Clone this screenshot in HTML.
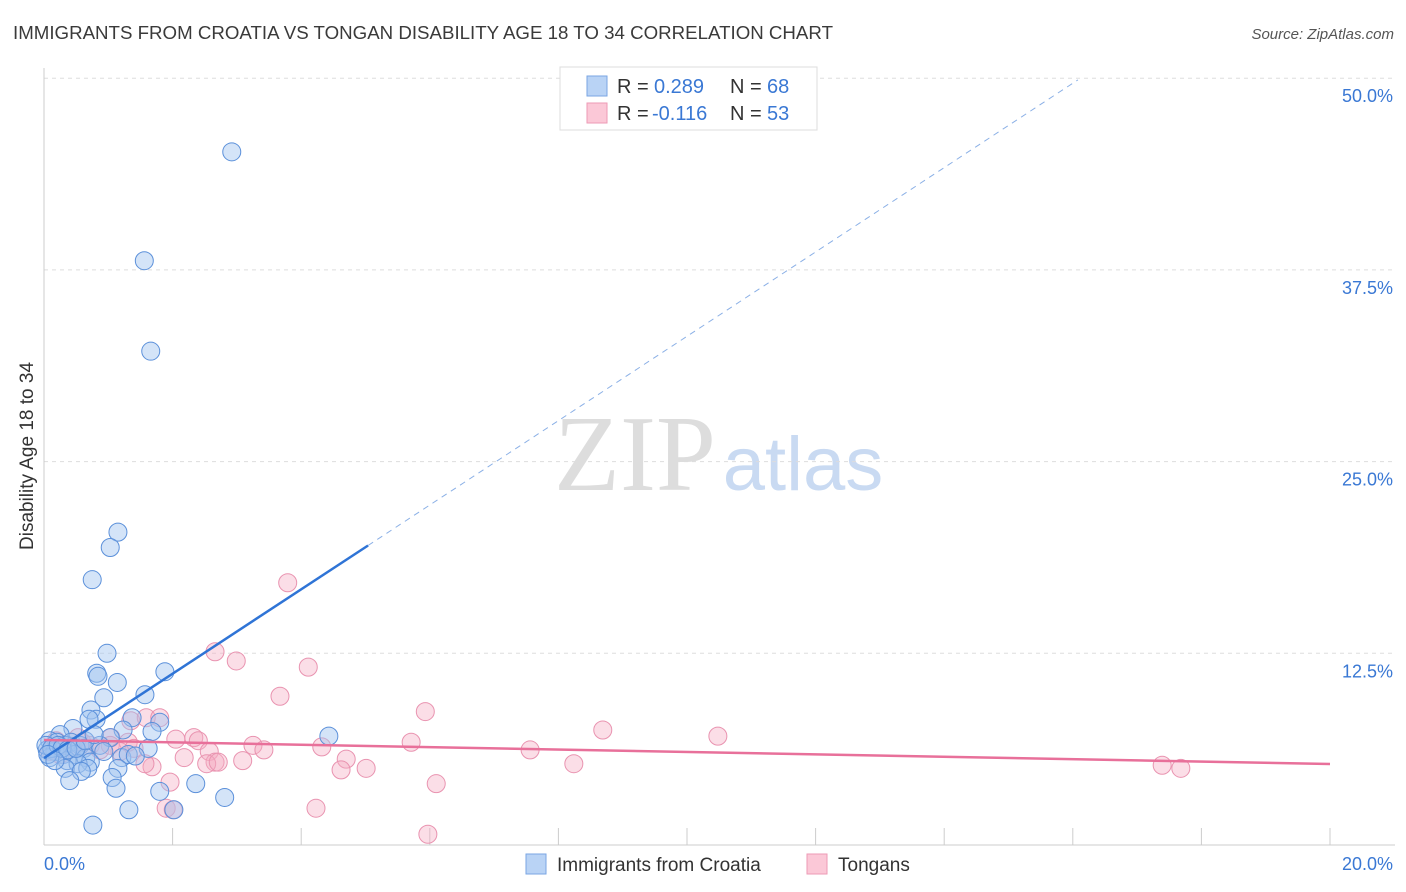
<!DOCTYPE html>
<html><head><meta charset="utf-8"><style>
body{margin:0;background:#fff;font-family:"Liberation Sans",sans-serif}
svg{display:block}
</style></head><body>
<svg width="1406" height="892" viewBox="0 0 1406 892" xmlns="http://www.w3.org/2000/svg">
<text x="13" y="39" font-size="18" fill="#3a3a3a" textLength="820" lengthAdjust="spacingAndGlyphs">IMMIGRANTS FROM CROATIA VS TONGAN DISABILITY AGE 18 TO 34 CORRELATION CHART</text>
<text x="1394" y="39" font-size="15" font-style="italic" fill="#555" text-anchor="end">Source: ZipAtlas.com</text>
<g>
<text x="635" y="490" font-size="108" font-family="Liberation Serif,serif" fill="#ddd" text-anchor="middle">ZIP</text>
<text x="803" y="490" font-size="76" fill="#c9daf2" text-anchor="middle">atlas</text>
</g>
<g id="grid"></g>
<g id="axes"></g>
<g id="marks"></g>
<g>
<rect x="560" y="67" width="257" height="63" fill="#fff" stroke="#ddd"/>
<rect x="587" y="76" width="20" height="20" fill="#b9d3f5" stroke="#7aa6e3"/>
<rect x="587" y="103" width="20" height="20" fill="#fbc8d7" stroke="#ee9ab5"/>
<text x="617" y="93" font-size="20" fill="#333">R = <tspan x="654" fill="#3a78d4">0.289</tspan><tspan x="730">N = </tspan><tspan x="767" fill="#3a78d4">68</tspan></text>
<text x="617" y="120" font-size="20" fill="#333">R = <tspan x="652" fill="#3a78d4">-0.116</tspan><tspan x="730">N = </tspan><tspan x="767" fill="#3a78d4">53</tspan></text>
</g>
<g>
<rect x="526" y="854" width="20" height="20" fill="#b9d3f5" stroke="#7aa6e3"/>
<text x="557" y="871" font-size="19" fill="#333">Immigrants from Croatia</text>
<rect x="807" y="854" width="20" height="20" fill="#fbc8d7" stroke="#ee9ab5"/>
<text x="838" y="871" font-size="19" fill="#333">Tongans</text>
</g>
</svg>
<script>
const xTicks=[0,2,4,6,8,10,12,14,16,18,20];
const yTicks=[12.5,25,37.5,50];
const yTickLabels=["12.5%","25.0%","37.5%","50.0%"];
const blueX=[2.92,1.56,1.66,1.15,1.03,0.75,0.98,0.82,0.84,1.88,1.14,0.93,1.57,0.73,0.81,1.37,1.80,0.70,0.45,1.23,1.68,1.03,0.25,0.09,0.20,0.33,0.42,0.56,0.62,1.62,4.43,0.05,0.17,0.30,0.48,0.65,0.72,1.21,1.31,1.42,0.36,0.53,0.09,1.15,0.33,0.68,0.58,1.06,0.40,1.12,1.80,2.36,1.32,2.02,2.81,0.76,0.03,0.12,0.22,0.87,0.93,0.28,0.37,0.50,0.06,0.17,0.64,0.78];
const blueY=[45.2,38.1,32.2,20.4,19.4,17.3,12.5,11.2,11.0,11.3,10.6,9.6,9.8,8.8,8.2,8.3,8.0,8.2,7.6,7.5,7.4,7.0,7.2,6.8,6.7,6.5,6.7,6.5,6.3,6.3,7.1,6.2,6.1,5.9,5.9,5.7,5.4,5.7,5.9,5.8,5.5,5.3,5.7,5.0,5.0,5.0,4.8,4.4,4.2,3.7,3.5,4.0,2.3,2.3,3.1,1.3,6.5,6.3,6.5,6.5,6.1,6.3,6.2,6.3,5.9,5.5,6.8,7.2];
const pinkX=[3.79,2.66,2.99,4.11,3.67,5.93,8.69,10.48,1.35,1.59,1.80,1.04,1.31,1.40,2.05,2.33,2.40,2.57,3.25,3.42,4.32,5.71,7.56,4.70,2.66,2.53,2.71,3.09,4.62,5.01,8.24,17.39,17.68,1.68,1.57,2.18,1.96,1.90,2.01,4.23,6.10,5.97,0.19,0.31,0.44,0.59,0.72,0.87,0.09,0.25,1.03,1.18,0.53];
const pinkY=[17.1,12.6,12.0,11.6,9.7,8.7,7.5,7.1,8.1,8.3,8.3,7.0,6.7,6.3,6.9,7.0,6.8,6.1,6.5,6.2,6.4,6.7,6.2,5.6,5.4,5.3,5.4,5.5,4.9,5.0,5.3,5.2,5.0,5.1,5.3,5.7,4.1,2.4,2.3,2.4,4.0,0.7,6.8,6.5,6.3,6.7,6.5,6.2,6.1,5.9,6.5,6.1,7.0];
const blueTrendStart=5.67, blueTrendSlope=2.75, blueSolidEnd=5.04, blueDashEnd=16.08;
const pinkTrendStart=6.85, pinkTrendEnd=5.28;
const NS="http://www.w3.org/2000/svg";
const sx=v=>44+v*64.3, sy=v=>845-v*15.336;
function mk(t,a,p){const e=document.createElementNS(NS,t);for(const k in a)e.setAttribute(k,a[k]);p.appendChild(e);return e;}
const grid=document.getElementById('grid'),axes=document.getElementById('axes'),marks=document.getElementById('marks');
yTicks.forEach((v,i)=>{
 const l=mk('line',{x1:44,x2:1395,y1:sy(v),y2:sy(v),stroke:'#ddd','stroke-dasharray':'4 4'},grid);
 
 
 const t=mk('text',{x:1393,y:sy(v)+24,'font-size':18,fill:'#3a78d4','text-anchor':'end'},axes);
 t.textContent=yTickLabels[i];
 
 
});
const ax=mk('line',{x1:44,x2:1395,y1:845,y2:845,stroke:'#ccc'},axes);


const ay=mk('line',{x1:44,x2:44,y1:68,y2:845,stroke:'#ccc'},axes);


xTicks.slice(1).forEach(v=>{
 const l=mk('line',{x1:sx(v),x2:sx(v),y1:845,y2:828,stroke:'#ccc'},axes);
 
 
});
const x0=mk('text',{x:44,y:870,'font-size':18,fill:'#3a78d4'},axes);x0.textContent='0.0%';


const x1=mk('text',{x:1393,y:870,'font-size':18,fill:'#3a78d4','text-anchor':'end'},axes);x1.textContent='20.0%';


const yt=mk('text',{x:0,y:0,'font-size':19,fill:'#333','text-anchor':'middle',transform:'translate(33,456) rotate(-90)'},axes);yt.textContent='Disability Age 18 to 34';


function pts(X,Y,fill,stroke,name){X.forEach((x,i)=>{const c=mk('circle',{cx:sx(x),cy:sy(Y[i]),r:9,fill:fill,stroke:stroke,'stroke-width':1},marks);
 
 });}
pts(pinkX,pinkY,'rgba(246,172,196,0.4)','#e993b0','tongan-point');
pts(blueX,blueY,'rgba(160,196,240,0.45)','#5b90da','croatia-point');
const bt=v=>blueTrendStart+blueTrendSlope*v;
const l1=mk('line',{x1:sx(0),y1:sy(bt(0)),x2:sx(blueSolidEnd),y2:sy(bt(blueSolidEnd)),stroke:'#2f74d6','stroke-width':2.5},marks);


const l2=mk('line',{x1:sx(blueSolidEnd),y1:sy(bt(blueSolidEnd)),x2:sx(blueDashEnd),y2:sy(bt(blueDashEnd)),stroke:'#8bb0e6','stroke-width':1,'stroke-dasharray':'6 5'},marks);


const l3=mk('line',{x1:sx(0),y1:sy(pinkTrendStart),x2:sx(20),y2:sy(pinkTrendEnd),stroke:'#e8709a','stroke-width':2.5},marks);


</script>
</body></html>
